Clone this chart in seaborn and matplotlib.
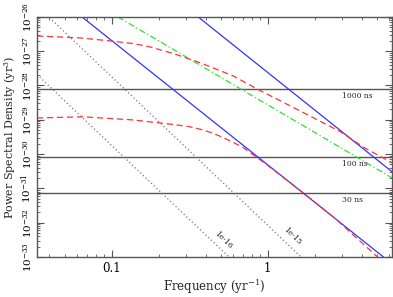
import numpy as np
import pandas as pd
import matplotlib
matplotlib.use("Agg")
import matplotlib.pyplot as plt
import seaborn as sns

# white noise levels (yr^3)
wn_labels = ['1000 ns', '100 ns', '30 ns']
wn_psd = [7.9e-29, 8.3e-31, 7.4e-32]

# GW background power laws, dotted (A = 1e-16, 1e-15)
gw_labels = ['1e-16', '1e-15']
gw16_f = [0.0333, 0.57]
gw16_p = [2.1e-28, 9.6e-34]
gw15_f = [0.04, 1.65]
gw15_p = [9.6e-27, 9.6e-34]

# blue power laws
blue1_f = [0.0647, 5.51]
blue1_p = [1e-26, 1e-33]
blue2_f = [0.359, 6.29]
blue2_p = [1e-26, 3.0e-31]

# green power law
green_f = [0.110, 6.29]
green_p = [1e-26, 2.0e-31]

# red spectra with turnover
red1_f = [0.0333, 0.063, 0.098, 0.14, 0.177, 0.25, 0.370, 0.601, 0.857, 1.62, 2.92, 4.2, 6.29]
red1_p = [2.79e-27, 2.44e-27, 2.0e-27, 1.65e-27, 1.33e-27, 8.5e-28, 4.6e-28, 1.91e-28, 7.9e-29,
          1.8e-29, 4.5e-30, 1.5e-30, 5.5e-31]
red2_f = [0.0333, 0.0658, 0.1375, 0.248, 0.310, 0.370, 0.430, 0.497, 0.590, 0.698, 0.993, 1.69, 2.63, 5.05]
red2_p = [1.13e-29, 1.22e-29, 9.9e-30, 7.3e-30, 6.4e-30, 5.3e-30, 4.3e-30, 3.3e-30, 2.3e-30, 1.55e-30,
          4.8e-31, 7.4e-32, 1.48e-32, 1e-33]

sns.set_style("ticks")
plt.rcParams['font.family'] = ['DejaVu Serif']
plt.rcParams['mathtext.fontset'] = 'dejavuserif'

fig = plt.figure(figsize=(3.93, 2.97), dpi=100)
ax = fig.add_axes([0.094, 0.135, 0.904, 0.808])

xlim = (0.0333, 6.28)
for p in wn_psd:
    sns.lineplot(x=list(xlim), y=[p, p], color='#555555', lw=1.0, ax=ax)

sns.lineplot(x=gw16_f, y=gw16_p, color='#777777', lw=0.9, linestyle=(0, (1, 2)), ax=ax)
sns.lineplot(x=gw15_f, y=gw15_p, color='#777777', lw=0.9, linestyle=(0, (1, 2)), ax=ax)
sns.lineplot(x=blue1_f, y=blue1_p, color='#3333ff', lw=0.9, ax=ax)
sns.lineplot(x=blue2_f, y=blue2_p, color='#3333ff', lw=0.9, ax=ax)
sns.lineplot(x=green_f, y=green_p, color='#33dd33', lw=0.9, linestyle=(0, (5, 2, 1, 2)), ax=ax)
sns.lineplot(x=red1_f, y=red1_p, color='#ff3333', lw=0.9, linestyle=(0, (5, 3)), sort=False, ax=ax)
sns.lineplot(x=red2_f, y=red2_p, color='#ff3333', lw=0.9, linestyle=(0, (5, 3)), sort=False, ax=ax)

ax.set(xscale='log', yscale='log')
ax.set_xlim(*xlim)
ax.set_ylim(1e-33, 1e-26)

for lab, p in zip(wn_labels, wn_psd):
    ax.text(3.0, p * 0.8, lab, fontsize=5.5, va='top', ha='left')
ax.text(0.52, 3.0e-33, gw_labels[0], fontsize=5.5, rotation=-44, ha='center', va='center')
ax.text(1.45, 4.0e-33, gw_labels[1], fontsize=5.5, rotation=-44, ha='center', va='center')

ax.set_xticks([0.1, 1])
ax.set_xticklabels(['0.1', '1'])
ax.set_yticks([10.0 ** k for k in range(-33, -25)])
ax.tick_params(which='both', direction='in', top=True, right=True, colors='#555555',
               labelcolor='black')
ax.tick_params(axis='x', labelsize=8.5)
ax.tick_params(axis='y', labelsize=7.5, pad=2)
ax.tick_params(which='major', length=5, width=0.8)
ax.tick_params(which='minor', length=2.5, width=0.6)
for lab in ax.get_yticklabels():
    lab.set_rotation(90)
    lab.set_va('center')
for s in ax.spines.values():
    s.set_color('#555555')
    s.set_linewidth(1.0)

ax.set_xlabel('Frequency (yr$^{-1}$)', fontsize=8.5)
ax.set_ylabel('Power Spectral Density (yr$^{3}$)', fontsize=8)
ax.xaxis.set_label_coords(0.5, -0.085)
ax.yaxis.set_label_coords(-0.052, 0.5)

fig.savefig('out.png', dpi=100)
